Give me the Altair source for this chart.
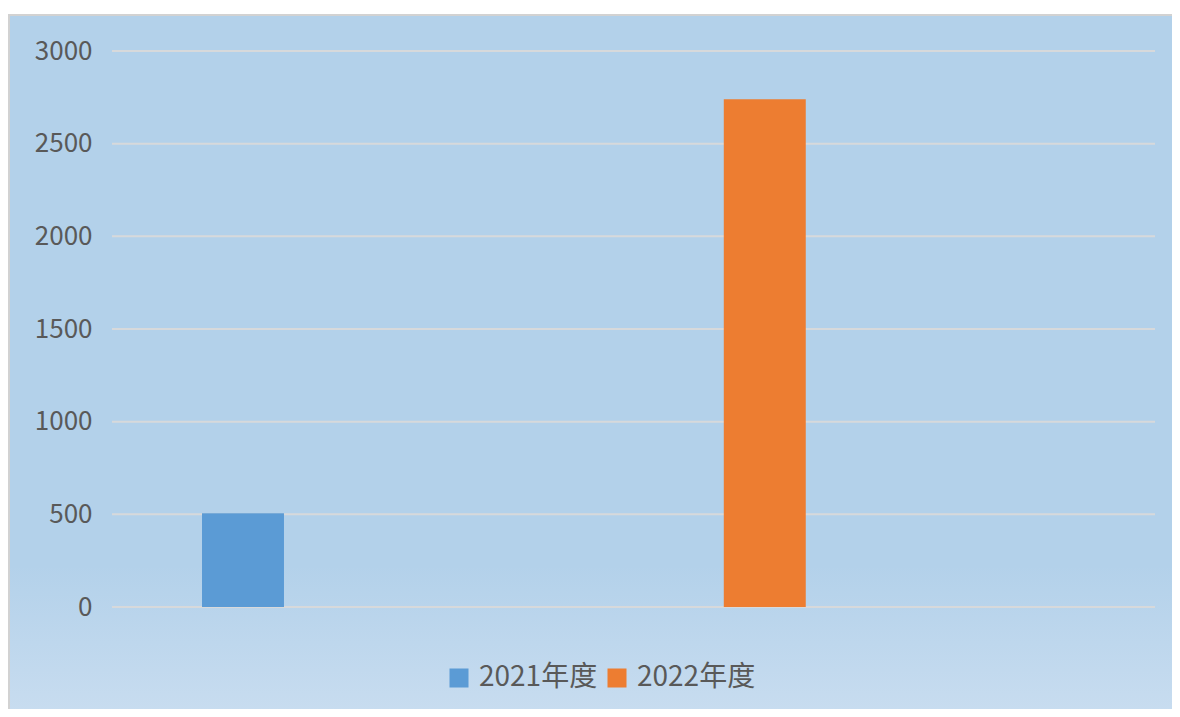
import altair as alt
import pandas as pd

years = ["2021年度", "2022年度"]
values = [506, 2739]
colors = ["#5b9bd5", "#ed7d31"]
y_ticks = [0, 500, 1000, 1500, 2000, 2500, 3000]

FONT = "Noto Sans CJK SC"
W, H = 1043, 556

df = pd.DataFrame({"year": years, "value": values})
grid_df = pd.DataFrame({"tick": y_ticks})

y_axis = alt.Axis(
    values=y_ticks,
    format="d",
    grid=False,
    domain=False,
    ticks=False,
    labelPadding=20,
    labelFontSize=26,
    labelColor="#595959",
    labelFont=FONT,
    title=None,
    zindex=2,
)
y_scale = alt.Scale(domain=[0, 3000], nice=False)

bg = alt.Chart(pd.DataFrame({"a": [0]})).mark_rect(
    fill=alt.Gradient(
        gradient="linear",
        stops=[
            alt.GradientStop(color="#b3d1ea", offset=0),
            alt.GradientStop(color="#b3d1ea", offset=0.78),
            alt.GradientStop(color="#c9ddf0", offset=1),
        ],
        x1=0, x2=0, y1=0, y2=1,
    ),
    stroke="#d2d2d2",
    strokeWidth=2,
).encode(
    x=alt.value(-103), x2=alt.value(1080), y=alt.value(-36), y2=alt.value(670)
)

grid = alt.Chart(grid_df).mark_rule(color="#d7d9db", strokeWidth=2).encode(
    y=alt.Y("tick:Q", scale=y_scale, axis=y_axis)
)

bars = alt.Chart(df).mark_bar().encode(
    x=alt.X(
        "year:N",
        sort=years,
        axis=None,
        scale=alt.Scale(paddingInner=0.8429, paddingOuter=0.4209, align=0.2049, round=False),
    ),
    y=alt.Y("value:Q", scale=y_scale, axis=y_axis),
    color=alt.Color(
        "year:N",
        scale=alt.Scale(domain=years, range=colors),
        legend=alt.Legend(
            orient="none",
            legendX=333,
            legendY=613,
            direction="horizontal",
            title=None,
            symbolType="square",
            symbolSize=361,
            symbolStrokeWidth=0,
            labelFontSize=28,
            labelFont=FONT,
            labelColor="#595959",
            labelOffset=6,
            columnPadding=5,
            zindex=2,
        ),
    ),
)

chart = (
    alt.layer(bg, grid, bars)
    .properties(
        width=W,
        height=H,
        autosize=alt.AutoSizeParams(type="none"),
        padding={"left": 104, "top": 43, "right": 17, "bottom": 102},
    )
    .configure(background="white", font=FONT)
    .configure_view(strokeWidth=0)
)

chart.save("out.html", embed_options={"renderer": "svg", "actions": False})
